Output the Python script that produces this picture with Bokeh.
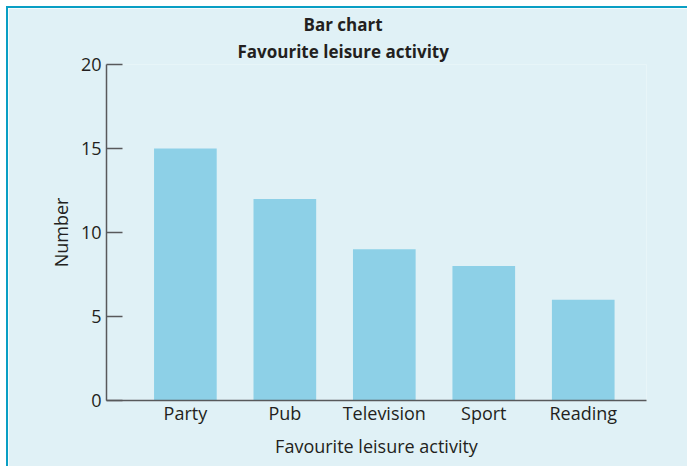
from bokeh.plotting import figure
from bokeh.models import Range1d, FixedTicker, Title
from bokeh.embed import file_html
from bokeh.resources import INLINE

# Favourite leisure activity survey
activities = ["Party", "Pub", "Television", "Sport", "Reading"]
counts = [15, 12, 9, 8, 6]
y_ticks = [0, 5, 10, 15, 20]

BG = "#e0f1f6"
BAR = "#8dd0e7"
TEXT = "#231f20"
AXIS = "#58595b"
FONT = "Open Sans"

positions = list(range(1, len(activities) + 1))

p = figure(
    width=681, height=460,
    x_range=Range1d(0.207, 5.636), y_range=Range1d(0, 20),
    output_backend="svg", toolbar_location=None,
    min_border_left=98, min_border_right=43,
    min_border_top=56, min_border_bottom=68,
    background_fill_color=BG, border_fill_color=BG,
    outline_line_color=None,
)
p.margin = (6, 0, 0, 6)
p.styles = {"border-top": "2px solid #0a9fc4", "border-left": "2px solid #0a9fc4"}

p.vbar(x=positions, top=counts, width=0.63, color=BAR, line_color=None)

p.xgrid.visible = False
p.ygrid.visible = False

xa = p.xaxis[0]
ya = p.yaxis[0]

# x axis: category names, no ticks
xa.ticker = FixedTicker(ticks=positions)
xa.major_label_overrides = {i: a for i, a in zip(positions, activities)}
xa.major_tick_line_color = None
xa.minor_tick_line_color = None
xa.major_label_standoff = -6
xa.axis_label = "Favourite leisure activity"
xa.axis_label_standoff = 6

# y axis: inward ticks
ya.ticker = FixedTicker(ticks=y_ticks)
ya.major_tick_in = 16
ya.major_tick_out = 0
ya.major_tick_line_color = AXIS
ya.major_tick_line_width = 1.5
ya.minor_tick_line_color = None
ya.major_label_standoff = 5
ya.axis_label = "Number"
ya.axis_label_standoff = 5

for ax in (xa, ya):
    ax.axis_line_color = AXIS
    ax.axis_line_width = 1.5
    ax.major_label_text_font = FONT
    ax.major_label_text_font_size = "18px"
    ax.major_label_text_color = TEXT
    ax.axis_label_text_font = FONT
    ax.axis_label_text_font_size = "18px"
    ax.axis_label_text_font_style = "normal"
    ax.axis_label_text_color = TEXT

# two-line heading
p.title.visible = False
for txt, off, so in (("Favourite leisure activity", 131, 4), ("Bar chart", 197, 0)):
    p.add_layout(Title(text=txt, align="left", offset=off, standoff=so,
                       text_font=FONT, text_font_size="17px", text_font_style="bold",
                       text_color=TEXT), "above")

open("out.html", "w").write(file_html(p, INLINE))
